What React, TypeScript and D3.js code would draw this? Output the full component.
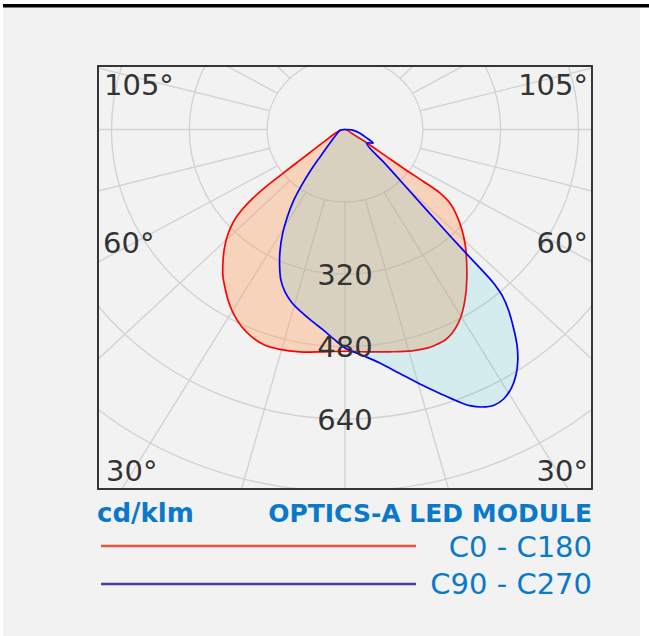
import React from 'react';
import * as d3 from 'd3';

// intensity rings (cd/klm) and the ones that carry a label
const ringValues = [160, 320, 480, 640, 800, 960];
const ringLabels = [320, 480, 640];
const spokeAngles = d3.range(0, 360, 15);

// C0 - C180 plane, angle from nadir (deg) -> cd/klm
const redLeftAngles = [0, 4.8, 10.7, 15.4, 19.3, 22.6, 25.9, 29.1, 32.1, 35.2, 38, 41, 43.6, 46.2, 48.5, 50, 51.2, 52.1, 52.7, 53.4, 54.8, 58.3, 72.9, 90];
const redLeftValues = [490, 493, 500, 504, 504, 497, 485, 469, 450, 428, 408, 382, 359, 333, 305, 277, 245, 209, 168, 128, 88, 48, 15, 0];
const redRightAngles = [0, 4.8, 10.7, 15.7, 19.5, 21.7, 23.8, 26.1, 28.6, 30.9, 33.8, 37, 40.5, 43.9, 47.3, 50.3, 53, 54.3, 54.5, 54.5, 55.1, 56.6, 58.4, 70, 90];
const redRightValues = [490, 493, 500, 508, 512, 511, 509, 501, 487, 470, 445, 416, 385, 357, 327, 299, 270, 240, 198, 152, 100, 54, 17, 5, 0];

// C90 - C270 plane (path order, the right side has a small notch near the top)
const blueLeftAngles = [0, 2.8, 5.8, 9.1, 12.6, 15.9, 18.9, 21.6, 24.2, 26.6, 29.1, 31.4, 33.7, 35.7, 37.8, 40.2, 45.9, 65.3, 84, 90];
const blueLeftValues = [483, 464, 445, 429, 413, 398, 380, 358, 328, 298, 264, 229, 193, 155, 117, 80, 43, 16, 10, 0];
const blueRightAngles = [0, 4, 7.9, 11.8, 15.3, 18.5, 21.1, 22.8, 24.7, 26.7, 28.7, 30.9, 32.9, 34.9, 36.6, 38.4, 40.1, 41.4, 41.9, 42.1, 42.4, 43.3, 44.9, 47.5, 55.6, 62.9, 66.1, 74.8, 86, 90];
const blueRightValues = [483, 500, 521, 551, 583, 615, 644, 662, 675, 682, 679, 666, 647, 621, 593, 557, 522, 488, 462, 442, 344, 247, 170, 112, 54, 65, 52, 32, 14, 0];

const W = 649;
const H = 636;
const CX = 345;
const CY = 129.5;
const KX = 1.075; // the picture is a little wider than tall
const FRAME = { x0: 98, y0: 66, x1: 592, y1: 489 };
const FONT = '"DejaVu Sans", Verdana, sans-serif';
const BLUE_TEXT = '#0a79cb';

const rScale = d3.scaleLinear().domain([0, 160]).range([0, 72.4]);

function project(angle: number, value: number, side: number): [number, number] {
  const a = (angle * Math.PI) / 180;
  const r = rScale(value);
  return [CX + side * r * Math.sin(a) * KX, CY + r * Math.cos(a)];
}

function curvePoints(la: number[], lv: number[], ra: number[], rv: number[]) {
  const pts: [number, number][] = [];
  for (let i = la.length - 1; i >= 0; i--) pts.push(project(la[i], lv[i], -1));
  for (let i = 1; i < ra.length - 1; i++) pts.push(project(ra[i], rv[i], 1));
  return pts;
}

const closedLine = d3.line().curve(d3.curveCatmullRomClosed.alpha(0.5));

export default function App() {
  const redPath = closedLine(curvePoints(redLeftAngles, redLeftValues, redRightAngles, redRightValues)) || '';
  const bluePath = closedLine(curvePoints(blueLeftAngles, blueLeftValues, blueRightAngles, blueRightValues)) || '';

  const spokes = spokeAngles.map((a) => {
    const [x1, y1] = project(a, 160, 1);
    const [x2, y2] = project(a, 1200, 1);
    return { a, x1, y1, x2, y2 };
  });

  return (
    <svg width={W} height={H} style={{ position: 'absolute', left: 0, top: 0 }} fontFamily={FONT}>
      <rect x={0} y={0} width={W} height={H} fill="#ffffff" />
      <rect x={3} y={7} width={637} height={H - 7} fill="#f2f2f2" />
      <rect x={3} y={4} width={W - 3} height={3.5} fill="#000" />
      <defs>
        <clipPath id="plotClip">
          <rect x={FRAME.x0} y={FRAME.y0} width={FRAME.x1 - FRAME.x0} height={FRAME.y1 - FRAME.y0} />
        </clipPath>
      </defs>

      <g clipPath="url(#plotClip)">
        {ringValues.map((v) => (
          <ellipse key={v} cx={CX} cy={CY} rx={rScale(v) * KX} ry={rScale(v)} fill="none" stroke="#d3d3d3" strokeWidth={1.4} />
        ))}
        {spokes.map((s) => (
          <line key={s.a} x1={s.x1} y1={s.y1} x2={s.x2} y2={s.y2} stroke="#d3d3d3" strokeWidth={1.4} />
        ))}

        <path d={redPath} fill="rgba(255,160,100,0.38)" stroke="none" />
        <path d={redPath} fill="none" stroke="#ff0000" strokeWidth={1.7} />
        <path d={bluePath} fill="rgba(0,195,215,0.12)" stroke="none" />
        <path d={bluePath} fill="none" stroke="#0000ff" strokeWidth={1.7} strokeLinejoin="round" />

        {ringLabels.map((v) => (
          <text key={v} x={CX} y={CY + rScale(v)} dy="0.36em" textAnchor="middle" fontSize={29} fill="#333">
            {v}
          </text>
        ))}
      </g>

      <g fontSize={29} fill="#333">
        <text x={104} y={95}>105°</text>
        <text x={588} y={95} textAnchor="end">105°</text>
        <text x={103} y={253}>60°</text>
        <text x={588} y={253} textAnchor="end">60°</text>
        <text x={106} y={481}>30°</text>
        <text x={588} y={481} textAnchor="end">30°</text>
      </g>

      <rect x={FRAME.x0} y={FRAME.y0} width={FRAME.x1 - FRAME.x0} height={FRAME.y1 - FRAME.y0} fill="none" stroke="#222" strokeWidth={1.8} />

      <text x={97} y={521.5} fontSize={26} fontWeight="bold" fill={BLUE_TEXT}>cd/klm</text>
      <text x={592} y={521.5} fontSize={25} fontWeight="bold" fill={BLUE_TEXT} textAnchor="end">OPTICS-A LED MODULE</text>
      <line x1={101} x2={416} y1={546} y2={546} stroke="#f0503c" strokeWidth={2.4} />
      <text x={592} y={557} fontSize={29} fill={BLUE_TEXT} textAnchor="end">C0 - C180</text>
      <line x1={101} x2={416} y1={584} y2={584} stroke="#4b3c9e" strokeWidth={2.4} />
      <text x={592} y={593.5} fontSize={29} fill={BLUE_TEXT} textAnchor="end">C90 - C270</text>
    </svg>
  );
}
